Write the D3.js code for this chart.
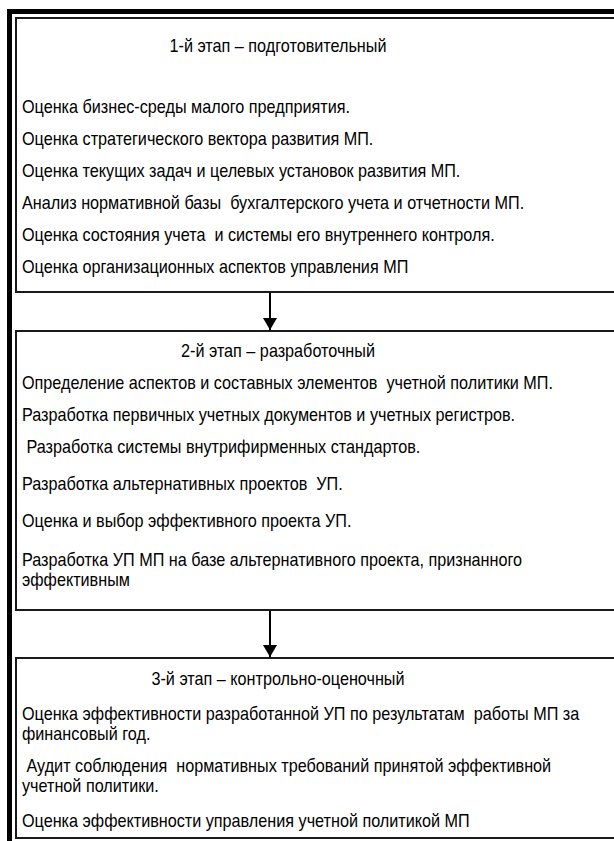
<!DOCTYPE html>
<html>
<head>
<meta charset="utf-8">
<script src="https://cdn.jsdelivr.net/npm/d3@7"></script>
<style>
  html, body { margin: 0; padding: 0; background: #fff; }
  svg text { font-family: "Liberation Sans", Arial, sans-serif; white-space: pre; }
</style>
</head>
<body>
<div id="schema"></div>
<script>
// этапы и их содержание
var stageTitles = [
  "1-й этап – подготовительный",
  "2-й этап – разработочный",
  "3-й этап – контрольно-оценочный"
];

var stage1Items = [
  "Оценка бизнес-среды малого предприятия.",
  "Оценка стратегического вектора развития МП.",
  "Оценка текущих задач и целевых установок развития МП.",
  "Анализ нормативной базы  бухгалтерского учета и отчетности МП.",
  "Оценка состояния учета  и системы его внутреннего контроля.",
  "Оценка организационных аспектов управления МП"
];

var stage2Items = [
  "Определение аспектов и составных элементов  учетной политики МП.",
  "Разработка первичных учетных документов и учетных регистров.",
  " Разработка системы внутрифирменных стандартов.",
  "Разработка альтернативных проектов  УП.",
  "Оценка и выбор эффективного проекта УП.",
  "Разработка УП МП на базе альтернативного проекта, признанного\nэффективным"
];

var stage3Items = [
  "Оценка эффективности разработанной УП по результатам  работы МП за\nфинансовый год.",
  " Аудит соблюдения  нормативных требований принятой эффективной\nучетной политики.",
  "Оценка эффективности управления учетной политикой МП"
];

// разметка (положение блоков и строк), отдельно от данных
var layout = [
  {top: 18, bottom: 292, titleY: 46, itemY: [107, 139, 171, 203, 235, 267]},
  {top: 331, bottom: 610, titleY: 351, itemY: [383, 415, 447, 484, 521, 560]},
  {top: 658, bottom: 838, titleY: 679, itemY: [714, 766, 821]}
];
var stages = [stage1Items, stage2Items, stage3Items];

var W = 614, H = 841;
var boxLeft = 15, boxRight = 640, arrowX = 270, titleX = 278, textX = 22;
var fontSize = 18, squeeze = 0.9, lineGap = 20;

var svg = d3.select("#schema")
  .append("svg")
    .attr("width", W)
    .attr("height", H);

svg.append("defs").append("marker")
    .attr("id", "head")
    .attr("viewBox", "0 0 12 14")
    .attr("refX", 12).attr("refY", 7)
    .attr("markerWidth", 12).attr("markerHeight", 14)
    .attr("markerUnits", "userSpaceOnUse")
    .attr("orient", "auto")
  .append("path")
    .attr("d", "M0,0 L12,7 L0,14 Z")
    .attr("fill", "#000");

// внешняя рамка
svg.append("rect")
  .attr("x", 9.5).attr("y", 11.5)
  .attr("width", 700).attr("height", 900)
  .attr("fill", "none")
  .attr("stroke", "#000")
  .attr("stroke-width", 5);

// текст, немного сжатый по горизонтали (узкий шрифт)
function addText(g, x, y, str, anchor) {
  var t = g.append("text")
    .attr("transform", "translate(" + x + "," + y + ") scale(" + squeeze + ",1)")
    .attr("text-anchor", anchor)
    .attr("dominant-baseline", "central")
    .style("font-size", fontSize + "px");
  str.split("\n").forEach(function(line, k) {
    t.append("tspan")
      .attr("x", 0)
      .attr("y", k * lineGap)
      .text(line);
  });
  return t;
}

stages.forEach(function(items, i) {
  var L = layout[i];
  var g = svg.append("g");

  g.append("rect")
    .attr("x", boxLeft + 1).attr("y", L.top)
    .attr("width", boxRight - boxLeft).attr("height", L.bottom - L.top)
    .attr("fill", "#fff")
    .attr("stroke", "#1a1a1a")
    .attr("stroke-width", 2);

  addText(g, titleX, L.titleY, stageTitles[i], "middle");

  items.forEach(function(item, j) {
    addText(g, textX, L.itemY[j], item, "start");
  });

  // стрелка к следующему этапу
  if (i < stages.length - 1) {
    svg.append("line")
      .attr("x1", arrowX).attr("y1", L.bottom + 1)
      .attr("x2", arrowX).attr("y2", layout[i + 1].top - 1)
      .attr("stroke", "#000")
      .attr("stroke-width", 2)
      .attr("marker-end", "url(#head)");
  }
});
</script>
</body>
</html>
